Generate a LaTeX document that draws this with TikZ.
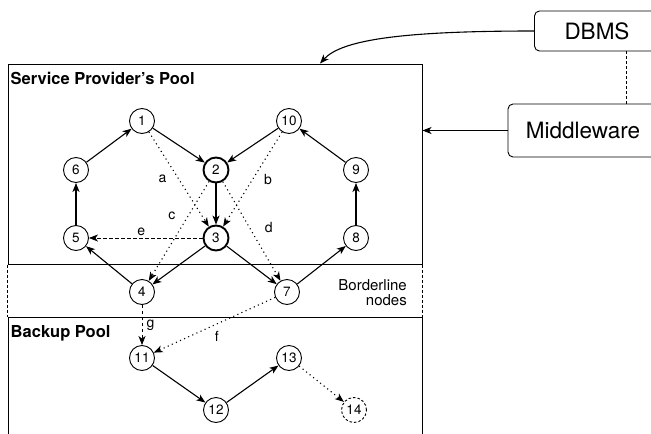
\documentclass[tikz,border=0pt]{standalone}
\usepackage{fontspec}
\setmainfont{TeX Gyre Heros}
\usetikzlibrary{positioning, arrows.meta}

\begin{document}
\begin{tikzpicture}[x=1pt, y=1pt, >={Stealth[length=9pt, width=7pt, inset=2.5pt]},
        peer/.style={on grid, circle, draw=black, line width=0.9pt, minimum size=25pt, inner sep=0pt, font=\fontsize{13.5}{15}\selectfont},
        busy/.style={peer, line width=1.9pt},
        spare/.style={peer, dash pattern=on 2.5pt off 2pt},
        pool/.style={rectangle, draw=black, line width=1pt, inner sep=0pt, minimum width=414pt},
        title/.style={anchor=north west, inner sep=0pt, font=\bfseries\fontsize{16.5}{19}\selectfont},
        system/.style={rectangle, draw=black, line width=0.9pt, rounded corners=5pt, font=\fontsize{22.5}{26}\selectfont},
        link/.style={->, line width=1.1pt},
        hint/.style={->, line width=1.1pt, dash pattern=on 1.1pt off 3.4pt},
        move/.style={->, line width=1pt, dash pattern=on 3.5pt off 2.5pt},
        tag/.style={inner sep=1pt, font=\fontsize{14}{16}\selectfont}]
    \useasboundingbox (0,0) rectangle (651,-434);

    \node[pool, minimum height=200pt] (sp) at (215,-164) {};
    \node[pool, minimum height=140pt] (bp) at (215,-387) {};
    \draw[line width=0.8pt, dash pattern=on 3pt off 2pt] (sp.south west) -- (bp.north west);
    \draw[line width=0.8pt, dash pattern=on 3pt off 2pt] (sp.south east) -- (bp.north east);
    \node[title] (sptitle) at ([shift={(3pt,-9pt)}]sp.north west) {Service Provider's Pool};
    \node[title] (bptitle) at ([shift={(3pt,-9pt)}]bp.north west) {Backup Pool};
    \node[anchor=east, align=right, inner sep=0pt, font=\fontsize{15}{15}\selectfont] (border) at (407,-293) {Borderline\\nodes};

    \node[peer] (n1) at (142,-121) {1};
    \node[busy, below right=49pt and 74pt of n1] (n2) {2};
    \node[busy, below=68pt of n2] (n3) {3};
    \node[peer, below left=49pt and 66pt of n1] (n6) {6};
    \node[peer, below=68pt of n6] (n5) {5};
    \node[peer, below left=54pt and 74pt of n3] (n4) {4};
    \node[peer, below right=54pt and 71pt of n3] (n7) {7};
    \node[peer, right=147pt of n1] (n10) {10};
    \node[peer, below right=49pt and 67pt of n10] (n9) {9};
    \node[peer, below=68pt of n9] (n8) {8};
    \node[peer, below=66pt of n4] (n11) {11};
    \node[peer, below right=52pt and 74pt of n11] (n12) {12};
    \node[peer, above right=52pt and 73pt of n12] (n13) {13};
    \node[spare, below right=52pt and 65pt of n13] (n14) {14};

    \node[system, minimum width=125pt, minimum height=40pt] (dbms) at (597,-31) {DBMS};
    \node[system, minimum width=150pt, minimum height=53pt] (mw) at (583,-130.5) {Middleware};
    \coordinate (tap) at ([xshift=29pt]dbms.south);

    \draw[link] (n6) -- (n1);
    \draw[link] (n1) -- (n2);
    \draw[link] (n10) -- (n2);
    \draw[link] (n9) -- (n10);
    \draw[link] (n5) -- (n6);
    \draw[link] (n8) -- (n9);
    \draw[link] (n2) -- (n3);
    \draw[link] (n3) -- (n4);
    \draw[link] (n3) -- (n7);
    \draw[link] (n4) -- (n5);
    \draw[link] (n7) -- (n8);
    \draw[link] (n11) -- (n12);
    \draw[link] (n12) -- (n13);
    \draw[hint] (n1) -- node[tag, left=11pt] {a} (n3);
    \draw[hint] (n10) -- node[tag, right=10pt] {b} (n3);
    \draw[hint] (n2) -- node[tag, pos=0.35, left=11pt] {c} (n4);
    \draw[hint] (n2) -- node[tag, pos=0.46, right=14pt] {d} (n7);
    \draw[move] (n3) -- node[tag, pos=0.54, above=1pt] {e} (n5);
    \draw[hint] (n7) -- node[tag, pos=0.48, below=6pt] {f} (n11);
    \draw[move] (n4) -- node[tag, right=3pt] {g} (n11);
    \draw[hint] (n13) -- (n14);

    \draw[link] (mw.west) -- (mw.west -| sp.east);
    \draw[link] (dbms.west) .. controls +(-130,0) and +(22,24) .. ([xshift=105pt]sp.north);
    \draw[line width=0.8pt, dash pattern=on 3pt off 2pt] (tap) -- (tap |- mw.north);
\end{tikzpicture}
\end{document}
